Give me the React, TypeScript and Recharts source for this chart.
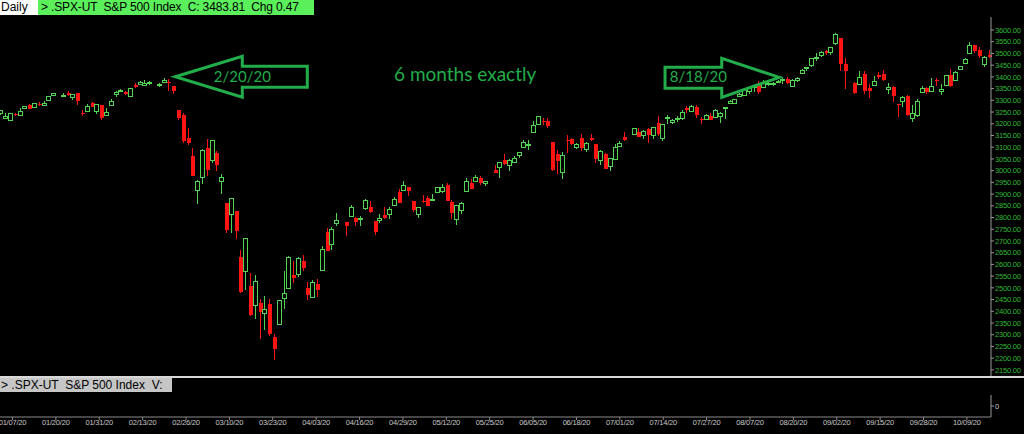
import React from 'react';
import { ComposedChart, Bar, Line, XAxis, YAxis, ReferenceDot } from 'recharts';

type Row = number[];

// daily rows: [day, open, high, low, close]; a bare [day] is a market holiday (empty slot)
const jan: Row[] = [
  [2, 3245, 3258, 3236, 3258], [3, 3226, 3246, 3222, 3235], [6, 3218, 3247, 3215, 3246],
  [7, 3242, 3245, 3232, 3237], [8, 3239, 3267, 3237, 3253], [9, 3266, 3276, 3264, 3275],
  [10, 3282, 3283, 3261, 3265], [13, 3271, 3288, 3268, 3288], [14, 3285, 3294, 3277, 3283],
  [15, 3282, 3299, 3281, 3289], [16, 3303, 3317, 3303, 3317], [17, 3324, 3330, 3319, 3330],
  [20], [21, 3321, 3330, 3317, 3321], [22, 3330, 3338, 3320, 3322], [23, 3316, 3327, 3302, 3326],
  [24, 3333, 3333, 3282, 3295], [27, 3247, 3259, 3235, 3244], [28, 3255, 3286, 3253, 3276],
  [29, 3289, 3293, 3272, 3273], [30, 3256, 3286, 3243, 3284], [31, 3282, 3282, 3215, 3226],
];
const feb: Row[] = [
  [3, 3236, 3268, 3236, 3249], [4, 3281, 3307, 3281, 3298], [5, 3325, 3338, 3314, 3335],
  [6, 3345, 3348, 3334, 3346], [7, 3336, 3341, 3322, 3328], [10, 3318, 3352, 3318, 3352],
  [11, 3366, 3376, 3353, 3358], [12, 3371, 3381, 3370, 3379], [13, 3366, 3385, 3361, 3374],
  [14, 3378, 3381, 3366, 3380], [17], [18, 3369, 3375, 3356, 3370], [19, 3380, 3394, 3379, 3386],
  [20, 3380, 3389, 3341, 3373], [21, 3361, 3361, 3328, 3338], [24, 3258, 3260, 3215, 3226],
  [25, 3239, 3247, 3119, 3128], [26, 3140, 3183, 3109, 3116], [27, 3063, 3097, 2977, 2979],
  [28, 2917, 2960, 2856, 2954],
];
const mar: Row[] = [
  [2, 2974, 3091, 2945, 3090], [3, 3096, 3137, 2977, 3003], [4, 3046, 3131, 3034, 3130],
  [5, 3076, 3083, 3000, 3024], [6, 2954, 2986, 2902, 2972], [9, 2864, 2864, 2734, 2747],
  [10, 2813, 2883, 2734, 2882], [11, 2826, 2826, 2707, 2741], [12, 2631, 2661, 2479, 2481],
  [13, 2570, 2711, 2492, 2711], [16, 2509, 2563, 2381, 2386], [17, 2426, 2554, 2367, 2529],
  [18, 2437, 2454, 2281, 2398], [19, 2393, 2467, 2320, 2409], [20, 2432, 2453, 2296, 2305],
  [23, 2291, 2301, 2192, 2237], [24, 2344, 2450, 2344, 2447], [25, 2458, 2571, 2408, 2476],
  [26, 2501, 2637, 2501, 2630], [27, 2556, 2616, 2520, 2541], [30, 2559, 2632, 2545, 2627],
  [31, 2615, 2641, 2571, 2585],
];
const apr: Row[] = [
  [1, 2498, 2523, 2447, 2471], [2, 2459, 2533, 2456, 2527], [3, 2515, 2538, 2460, 2489],
  [6, 2578, 2677, 2575, 2664], [7, 2739, 2757, 2658, 2659], [8, 2685, 2761, 2663, 2750],
  [9, 2777, 2819, 2762, 2790], [10], [13, 2782, 2782, 2721, 2762], [14, 2805, 2852, 2805, 2846],
  [15, 2796, 2802, 2762, 2783], [16, 2799, 2807, 2764, 2800], [17, 2842, 2879, 2831, 2875],
  [20, 2846, 2869, 2820, 2823], [21, 2785, 2786, 2727, 2737], [22, 2788, 2815, 2776, 2799],
  [23, 2810, 2845, 2794, 2798], [24, 2813, 2843, 2792, 2837], [27, 2855, 2888, 2853, 2878],
  [28, 2910, 2921, 2861, 2863], [29, 2918, 2955, 2912, 2940], [30, 2931, 2931, 2892, 2912],
];
const may: Row[] = [
  [1, 2869, 2869, 2822, 2831], [4, 2815, 2844, 2798, 2843], [5, 2869, 2898, 2864, 2868],
  [6, 2883, 2891, 2848, 2848], [7, 2878, 2902, 2876, 2881], [8, 2909, 2932, 2903, 2930],
  [11, 2915, 2944, 2903, 2930], [12, 2940, 2946, 2870, 2870], [13, 2866, 2874, 2793, 2820],
  [14, 2795, 2853, 2767, 2853], [15, 2830, 2865, 2817, 2864], [18, 2914, 2968, 2914, 2954],
  [19, 2949, 2964, 2922, 2923], [20, 2954, 2980, 2954, 2972], [21, 2970, 2979, 2939, 2949],
  [22, 2948, 2957, 2934, 2955], [25], [26, 3004, 3022, 2988, 2992], [27, 3016, 3036, 2970, 3036],
  [28, 3047, 3069, 3023, 3030], [29, 3025, 3049, 2999, 3044],
];
const jun: Row[] = [
  [1, 3039, 3062, 3032, 3056], [2, 3065, 3081, 3052, 3081], [3, 3099, 3131, 3097, 3123],
  [4, 3112, 3129, 3090, 3112], [5, 3164, 3212, 3164, 3194], [8, 3200, 3233, 3196, 3232],
  [9, 3213, 3223, 3193, 3207], [10, 3213, 3223, 3181, 3190], [11, 3124, 3124, 2999, 3002],
  [12, 3071, 3088, 2984, 3041], [15, 2994, 3080, 2966, 3067], [16, 3131, 3153, 3076, 3125],
  [17, 3136, 3141, 3108, 3113], [18, 3102, 3120, 3094, 3115], [19, 3140, 3156, 3083, 3098],
  [22, 3094, 3121, 3079, 3118], [23, 3139, 3155, 3127, 3131], [24, 3114, 3115, 3032, 3050],
  [25, 3047, 3086, 3024, 3084], [26, 3073, 3074, 3005, 3009], [29, 3019, 3054, 3000, 3053],
  [30, 3050, 3112, 3048, 3100],
];
const jul: Row[] = [
  [1, 3106, 3128, 3101, 3116], [2, 3144, 3166, 3125, 3130], [3], [6, 3155, 3183, 3155, 3180],
  [7, 3166, 3184, 3143, 3145], [8, 3153, 3172, 3137, 3170], [9, 3176, 3180, 3116, 3152],
  [10, 3152, 3187, 3136, 3185], [13, 3205, 3235, 3149, 3155], [14, 3141, 3201, 3128, 3198],
  [15, 3226, 3238, 3201, 3227], [16, 3208, 3220, 3199, 3216], [17, 3224, 3234, 3206, 3225],
  [20, 3224, 3259, 3215, 3252], [21, 3269, 3277, 3248, 3257], [22, 3255, 3279, 3253, 3276],
  [23, 3272, 3280, 3223, 3236], [24, 3219, 3227, 3200, 3216], [27, 3220, 3241, 3214, 3239],
  [28, 3234, 3244, 3216, 3218], [29, 3227, 3265, 3227, 3258], [30, 3232, 3251, 3204, 3246],
  [31, 3270, 3272, 3220, 3271],
];
const aug: Row[] = [
  [3, 3288, 3303, 3285, 3295], [4, 3290, 3307, 3286, 3307], [5, 3317, 3331, 3317, 3328],
  [6, 3323, 3351, 3318, 3349], [7, 3340, 3353, 3329, 3351], [10, 3356, 3363, 3335, 3360],
  [11, 3370, 3381, 3326, 3334], [12, 3355, 3388, 3355, 3380], [13, 3373, 3387, 3363, 3373],
  [14, 3369, 3379, 3362, 3373], [17, 3381, 3388, 3379, 3382], [18, 3387, 3395, 3370, 3390],
  [19, 3393, 3400, 3370, 3375], [20, 3360, 3391, 3355, 3386], [21, 3386, 3400, 3379, 3397],
  [24, 3418, 3432, 3413, 3431], [25, 3436, 3444, 3426, 3444], [26, 3450, 3481, 3444, 3479],
  [27, 3485, 3501, 3468, 3485], [28, 3495, 3509, 3484, 3508], [31, 3510, 3515, 3493, 3500],
];
const sep: Row[] = [
  [1, 3507, 3528, 3495, 3527], [2, 3544, 3588, 3535, 3581], [3, 3565, 3565, 3427, 3455],
  [4, 3454, 3479, 3350, 3427], [7], [8, 3372, 3380, 3329, 3332], [9, 3370, 3425, 3367, 3399],
  [10, 3413, 3426, 3329, 3339], [11, 3353, 3369, 3310, 3341], [14, 3364, 3403, 3364, 3384],
  [15, 3408, 3419, 3389, 3401], [16, 3411, 3429, 3384, 3385], [17, 3347, 3375, 3329, 3357],
  [18, 3357, 3362, 3292, 3319], [21, 3286, 3286, 3229, 3281], [22, 3296, 3320, 3271, 3316],
  [23, 3320, 3323, 3233, 3237], [24, 3226, 3279, 3209, 3247], [25, 3237, 3307, 3228, 3298],
  [28, 3334, 3361, 3333, 3352], [29, 3351, 3358, 3328, 3335], [30, 3341, 3394, 3340, 3363],
];
const oct: Row[] = [
  [1, 3386, 3397, 3361, 3381], [2, 3339, 3369, 3324, 3348], [5, 3367, 3410, 3367, 3409],
  [6, 3409, 3432, 3355, 3361], [7, 3385, 3426, 3385, 3419], [8, 3434, 3447, 3428, 3447],
  [9, 3460, 3482, 3458, 3477], [12, 3500, 3550, 3500, 3534], [13, 3534, 3534, 3501, 3512],
  [14, 3515, 3528, 3481, 3489], [15, 3454, 3489, 3441, 3483], [16, 3494, 3516, 3480, 3484],
];

const months: [number, Row[]][] = [
  [1, jan], [2, feb], [3, mar], [4, apr], [5, may], [6, jun], [7, jul], [8, aug], [9, sep], [10, oct],
];

const priceTicks = [
  2150, 2200, 2250, 2300, 2350, 2400, 2450, 2500, 2550, 2600, 2650, 2700, 2750, 2800, 2850,
  2900, 2950, 3000, 3050, 3100, 3150, 3200, 3250, 3300, 3350, 3400, 3450, 3500, 3550, 3600,
];
const dateTicks = [
  '01/07/20', '01/20/20', '01/31/20', '02/13/20', '02/26/20', '03/10/20', '03/23/20', '04/03/20',
  '04/16/20', '04/29/20', '05/12/20', '05/25/20', '06/05/20', '06/18/20', '07/01/20', '07/14/20',
  '07/27/20', '08/07/20', '08/20/20', '09/02/20', '09/15/20', '09/28/20', '10/09/20',
];

const pad = (n: number) => String(n).padStart(2, '0');

const data = months.flatMap(([m, rows]) =>
  rows.map((r) => {
    const has = r.length > 1;
    return {
      date: `${pad(m)}/${pad(r[0])}/20`,
      open: has ? r[1] : null,
      high: has ? r[2] : null,
      low: has ? r[3] : null,
      close: has ? r[4] : null,
      range: has ? [r[3], r[2]] : null,
      // volume pane shows no values, only its zero line
      volume: 0,
    };
  })
);

const UP = '#52d452';
const DOWN = '#ff1414';
const NOTE = '#22ad4a';
const AXIS_GREEN = '#34b834';
const small = "'Liberation Sans Narrow', 'Liberation Sans', Arial, sans-serif";

function Candle(props: any) {
  const { x, y, width, height, payload } = props;
  if (!payload || payload.open == null || height == null) return <g />;
  const { open, close, high, low } = payload;
  const cx = Math.round(x + width / 2);
  const toY = (v: number) => (high === low ? y : y + ((high - v) / (high - low)) * height);
  const top = Math.round(toY(Math.max(open, close)));
  const bot = Math.round(toY(Math.min(open, close)));
  const hi = Math.round(y);
  const lo = Math.round(y + height);
  if (close >= open) {
    const h = Math.max(bot - top, 1);
    return (
      <g>
        <line x1={cx + 0.5} x2={cx + 0.5} y1={hi} y2={top} stroke={UP} />
        <line x1={cx + 0.5} x2={cx + 0.5} y1={top + h} y2={lo} stroke={UP} />
        <rect x={cx - 1.5} y={top + 0.5} width={4} height={h} fill="#000" stroke={UP} />
      </g>
    );
  }
  return (
    <g>
      <line x1={cx + 0.5} x2={cx + 0.5} y1={hi} y2={lo} stroke={DOWN} />
      <rect x={cx - 1} y={top} width={4} height={Math.max(bot - top, 1)} fill={DOWN} />
    </g>
  );
}

function LeftArrow({ cx, cy }: any) {
  const tx = cx + 7;
  const ty = cy - 2.7;
  const pts = [
    [tx, ty], [tx + 67, ty - 20.5], [tx + 67, ty - 10.5], [tx + 132, ty - 10.5],
    [tx + 132, ty + 10.5], [tx + 67, ty + 10.5], [tx + 67, ty + 20.5],
  ].map((p) => p.join(',')).join(' ');
  return (
    <g>
      <polygon points={pts} fill="none" stroke={NOTE} strokeWidth={3} strokeLinejoin="miter" />
      <text x={tx + 67} y={ty + 5} textAnchor="middle" fill={NOTE} fontSize={15} fontFamily="Lato, 'Open Sans', sans-serif">
        2/20/20
      </text>
    </g>
  );
}

function RightArrow({ cx, cy }: any) {
  const tx = cx - 3;
  const ty = cy - 0.7;
  const pts = [
    [tx, ty], [tx - 57.6, ty - 19], [tx - 57.6, ty - 10], [tx - 114.3, ty - 10],
    [tx - 114.3, ty + 11], [tx - 57.6, ty + 11], [tx - 57.6, ty + 20],
  ].map((p) => p.join(',')).join(' ');
  return (
    <g>
      <polygon points={pts} fill="none" stroke={NOTE} strokeWidth={3} strokeLinejoin="miter" />
      <text x={tx - 81} y={ty + 5} textAnchor="middle" fill={NOTE} fontSize={15} fontFamily="Lato, 'Open Sans', sans-serif">
        8/18/20
      </text>
    </g>
  );
}

export default function App() {
  return (
    <div style={{ position: 'absolute', left: 0, top: 0, width: 1024, height: 434, background: '#000', overflow: 'hidden' }}>
      {/* price panel */}
      <div style={{ position: 'absolute', left: 0, top: 0 }}>
        <ComposedChart width={1024} height={377} data={data} margin={{ top: 17, right: 0, bottom: 0, left: -2 }}>
          <XAxis dataKey="date" hide />
          <YAxis
            orientation="right"
            width={33}
            domain={[2119.6, 3655.5]}
            allowDataOverflow
            ticks={priceTicks}
            interval={0}
            tickFormatter={(v: number) => v.toFixed(2)}
            tick={{ fill: AXIS_GREEN, fontSize: 7.5, fontFamily: small, letterSpacing: -0.2 }}
            tickSize={3}
            tickMargin={1}
            axisLine={{ stroke: '#9a9a9a' }}
            tickLine={{ stroke: '#9a9a9a' }}
          />
          <Bar dataKey="range" shape={<Candle />} isAnimationActive={false} />
          <ReferenceDot x="02/20/20" y={3389} r={0} shape={(p: any) => <LeftArrow cx={p.cx} cy={p.cy} />} />
          <ReferenceDot x="08/18/20" y={3395} r={0} shape={(p: any) => <RightArrow cx={p.cx} cy={p.cy} />} />
        </ComposedChart>
      </div>

      <div style={{ position: 'absolute', left: 394, top: 62, color: NOTE, fontSize: 19, fontFamily: "Lato, 'Open Sans', sans-serif", whiteSpace: 'pre', lineHeight: '24px' }}>
        6 months exactly
      </div>

      {/* header */}
      <div style={{ position: 'absolute', left: 0, top: 0, height: 15, display: 'flex', fontFamily: "'Liberation Sans', Arial, sans-serif", fontSize: 12, lineHeight: '15px', color: '#000' }}>
        <div style={{ background: '#fff', width: 37, paddingLeft: 1 }}>Daily</div>
        <div style={{ background: '#5cef5c', width: 273, paddingLeft: 3, whiteSpace: 'pre', overflow: 'hidden', letterSpacing: -0.15 }}>
          {'> .SPX-UT  S&P 500 Index  C: 3483.81  Chg 0.47'}
        </div>
      </div>

      {/* separator */}
      <div style={{ position: 'absolute', left: 0, top: 376, width: 1024, height: 2, background: '#d8d8d8' }} />

      {/* volume panel */}
      <div style={{ position: 'absolute', left: 0, top: 377 }}>
        <ComposedChart width={1024} height={57} data={data} margin={{ top: 18, right: 0, bottom: 0, left: -2 }}>
          <XAxis
            dataKey="date"
            ticks={dateTicks}
            interval={0}
            height={17}
            tick={{ fill: '#c8c8c8', fontSize: 7.5, fontFamily: small, letterSpacing: -0.2 }}
            tickSize={3}
            tickMargin={0}
            axisLine={{ stroke: '#8a8a8a' }}
            tickLine={{ stroke: '#8a8a8a' }}
          />
          <YAxis
            orientation="right"
            width={33}
            domain={[-1, 1]}
            ticks={[0]}
            interval={0}
            tick={{ fill: '#c8c8c8', fontSize: 7.5, fontFamily: small }}
            tickSize={3}
            tickMargin={1}
            axisLine={{ stroke: '#9a9a9a' }}
            tickLine={{ stroke: '#9a9a9a' }}
          />
          <Line dataKey="volume" stroke="none" dot={false} activeDot={false} isAnimationActive={false} />
        </ComposedChart>
      </div>

      <div style={{ position: 'absolute', left: 0, top: 378, height: 14, width: 171, background: '#c6c6c6', fontFamily: "'Liberation Sans', Arial, sans-serif", fontSize: 12, lineHeight: '14px', color: '#000', whiteSpace: 'pre', paddingLeft: 1 }}>
        {'> .SPX-UT  S&P 500 Index  V:'}
      </div>
    </div>
  );
}
